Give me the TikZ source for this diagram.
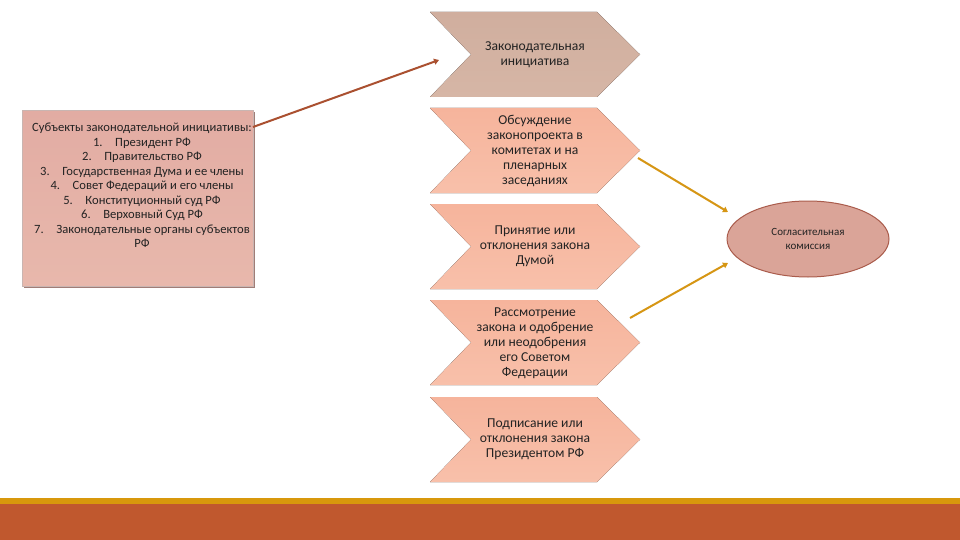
\documentclass[tikz,border=0pt]{standalone}
\usepackage{fontspec}
\setmainfont{Carlito}
\usetikzlibrary{shapes.geometric,arrows.meta}
\definecolor{chevA}{RGB}{214,182,166}
\definecolor{chevAtop}{RGB}{208,174,158}
\definecolor{chevB}{RGB}{248,192,170}
\definecolor{chevBtop}{RGB}{246,180,156}
\definecolor{boxfill}{RGB}{226,172,163}
\definecolor{boxfillb}{RGB}{232,184,172}
\definecolor{boxedge}{RGB}{120,70,60}
\definecolor{ellfill}{RGB}{218,164,152}
\definecolor{elledge}{RGB}{170,92,76}
\definecolor{brownarrow}{RGB}{170,80,48}
\definecolor{goldarrow}{RGB}{214,150,20}
\definecolor{barred}{RGB}{192,88,46}
\definecolor{bargold}{RGB}{216,152,12}
\definecolor{txt}{RGB}{35,35,35}
\tikzset{
  chevtext/.style={align=center,font=\fontsize{13.6}{15}\selectfont,text=txt,inner sep=0pt},
  conn/.style={line width=2pt,-{Triangle[length=5pt,width=6pt]}},
}
\newcommand{\chev}[3]{% top y, color bottom, color top
  \fill[top color=#3,bottom color=#2] (430,#1) -- (597,#1) -- (640,#1+42.5) -- (597,#1+85) -- (430,#1+85) -- (471,#1+42.5) -- cycle;
}
\begin{document}
\begin{tikzpicture}[x=1pt,y=-1pt]
\useasboundingbox (0,0) rectangle (960,540);
\fill[white] (0,0) rectangle (960,540);
% bottom bar
\fill[bargold] (0,497.5) rectangle (960,503.5);
\fill[barred] (0,503.5) rectangle (960,540);
% chevrons
\chev{12}{chevA}{chevAtop}
\chev{108}{chevB}{chevBtop}
\chev{204}{chevB}{chevBtop}
\chev{300}{chevB}{chevBtop}
\chev{397}{chevB}{chevBtop}
\node[chevtext] (c1) at (535,54.5) {Законодательная\\инициатива};
\node[chevtext] (c2) at (535,150.5) {Обсуждение\\законопроекта в\\комитетах и на\\пленарных\\заседаниях};
\node[chevtext] (c3) at (535,246.5) {Принятие или\\отклонения закона\\Думой};
\node[chevtext] (c4) at (535,343) {Рассмотрение\\закона и одобрение\\или неодобрения\\его Советом\\Федерации};
\node[chevtext] (c5) at (535,439.5) {Подписание или\\отклонения закона\\Президентом РФ};
% left box
\fill[boxedge!70] (24,112) rectangle (255,288);
\node[rectangle,top color=boxfill,bottom color=boxfillb,draw=boxedge!40,line width=0.6pt,
      minimum width=231pt,minimum height=176pt,anchor=north west,inner sep=0pt] (src) at (22,110) {};
\node[align=center,font=\fontsize{12.6}{14.5}\selectfont,text=txt,anchor=north,inner sep=0pt] (srctext) at (142,123)
 {Субъекты законодательной инициативы:\\
  1.\quad Президент РФ\\
  2.\quad Правительство РФ\\
  3.\quad Государственная Дума и ее члены\\
  4.\quad Совет Федераций и его члены\\
  5.\quad Конституционный суд РФ\\
  6.\quad Верховный Суд РФ\\
  7.\quad Законодательные органы субъектов\\
  РФ};
% ellipse
\node[ellipse,fill=ellfill,draw=elledge,line width=1pt,minimum width=162pt,minimum height=76pt,
      align=center,font=\fontsize{11}{14.5}\selectfont,text=txt] (comm) at (808,239) {Согласительная\\комиссия};
% arrows
\coordinate (a1s) at (253,127);
\coordinate (a1e) at (439,60);
\coordinate (a2s) at (638,158);
\coordinate (a2e) at (728,212);
\coordinate (a3s) at (630,318);
\coordinate (a3e) at (728,263);
\draw[conn,brownarrow] (a1s) -- (a1e);
\draw[conn,goldarrow] (a2s) -- (a2e);
\draw[conn,goldarrow] (a3s) -- (a3e);
\end{tikzpicture}
\end{document}
